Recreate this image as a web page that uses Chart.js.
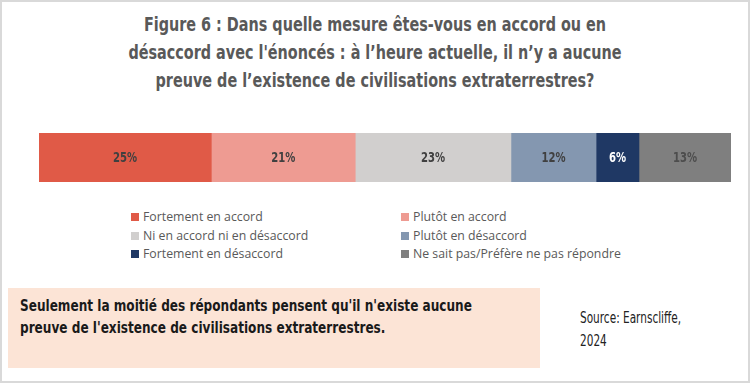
<!DOCTYPE html>
<html>
<head>
<meta charset="utf-8">
<script src="https://cdn.jsdelivr.net/npm/chart.js@4/dist/chart.umd.min.js"></script>
<style>
  html, body { margin: 0; padding: 0; background: #fff; }
  #frame { position: relative; width: 750px; height: 383px; box-sizing: border-box; border: 2px solid #d9d9d9; overflow: hidden; }
  .narrow { font-family: "DejaVu Sans Condensed", "Liberation Sans Narrow", sans-serif; white-space: nowrap; }
  #title { position: absolute; left: 0; top: 8px; width: 746px; text-align: center;
    font-weight: bold; font-size: 20px; line-height: 28px; color: #595959;
    transform: scaleX(0.8); transform-origin: 373px 0; }
  #barWrap { position: absolute; left: 37px; top: 131px; width: 692px; height: 49px; }
  #legend { position: absolute; left: 129px; top: 206px; width: 520px;
    font-family: "Open Sans", "Noto Sans", sans-serif; font-size: 12.3px; color: #595959; }
  .item { position: absolute; white-space: nowrap; line-height: 18px; }
  .item span.box { display: inline-block; width: 8px; height: 8px; margin-right: 4px; vertical-align: 0px; }
  #note { position: absolute; left: 6px; top: 286px; width: 532px; height: 80px; background: #fce4d6; }
  #noteText { position: absolute; left: 12px; top: 7px; font-weight: bold; font-size: 16px; line-height: 22px; color: #1a1a1a;
    transform: scaleX(0.84); transform-origin: 0 0; }
  #source { position: absolute; left: 578px; top: 305px; font-size: 15px; line-height: 23px; color: #222;
    transform: scaleX(0.78); transform-origin: 0 0; }
</style>
</head>
<body>
<div id="frame">
  <div id="title" class="narrow">Figure 6 : Dans quelle mesure êtes-vous en accord ou en<br>désaccord avec l'énoncés : à l’heure actuelle, il n’y a aucune<br>preuve de l’existence de civilisations extraterrestres?</div>
  <div id="barWrap"><canvas id="myChart"></canvas></div>
  <div id="legend"></div>
  <div id="note"><div id="noteText" class="narrow">Seulement la moitié des répondants pensent qu'il n'existe aucune<br>preuve de l'existence de civilisations extraterrestres.</div></div>
  <div id="source" class="narrow">Source: Earnscliffe,<br>2024</div>
</div>
<script>
const categories = [
  'Fortement en accord',
  'Plutôt en accord',
  'Ni en accord ni en désaccord',
  'Plutôt en désaccord',
  'Fortement en désaccord',
  'Ne sait pas/Préfère ne pas répondre'
]
const values = [24.9, 20.8, 22.5, 12.3, 6.2, 13.3]
const colors = ['#e05a47', '#ee9b92', '#d1cfce', '#8497b0', '#1f3864', '#7f7f7f']
const labelColors = ['#404040', '#404040', '#404040', '#404040', '#ffffff', '#4d4d4d']

// draws the % inside each segment
const segmentLabels = {
  id: 'segmentLabels',
  afterDatasetsDraw(chart) {
    const ctx = chart.ctx
    ctx.font = 'bold 14px "DejaVu Sans Condensed", sans-serif'
    ctx.textAlign = 'center'
    ctx.textBaseline = 'middle'
    chart.data.datasets.forEach((ds, i) => {
      const c = chart.getDatasetMeta(i).data[0].getCenterPoint()
      ctx.save()
      ctx.translate(c.x, c.y + 1)
      ctx.scale(0.8, 1)
      ctx.fillStyle = labelColors[i]
      ctx.fillText(Math.round(ds.data[0]) + '%', 0, 0)
      ctx.restore()
    })
  }
}

let datasets = categories.map((name, i) => ({
  label: name,
  data: [values[i]],
  backgroundColor: colors[i],
  borderWidth: 0,
  barPercentage: 1,
  categoryPercentage: 1
}))

let myChart = new Chart(document.getElementById('myChart'), {
  type: 'bar',
  data: { labels: [''], datasets: datasets },
  options: {
    indexAxis: 'y',
    responsive: true,
    maintainAspectRatio: false,
    animation: false,
    layout: { padding: 0 },
    plugins: { legend: { display: false }, tooltip: { enabled: false } },
    scales: {
      x: { stacked: true, display: false, min: 0, max: 100 },
      y: { stacked: true, display: false }
    }
  },
  plugins: [segmentLabels]
})

// two-column legend built from the chart's datasets
let legend = document.getElementById('legend')
myChart.data.datasets.forEach((ds, i) => {
  let item = document.createElement('div')
  item.className = 'item'
  item.style.left = (i % 2 === 0 ? 0 : 270) + 'px'
  item.style.top = (Math.floor(i / 2) * 18.5) + 'px'
  item.innerHTML = '<span class="box" style="background:' + ds.backgroundColor + '"></span>' + ds.label
  legend.appendChild(item)
})
</script>
</body>
</html>
